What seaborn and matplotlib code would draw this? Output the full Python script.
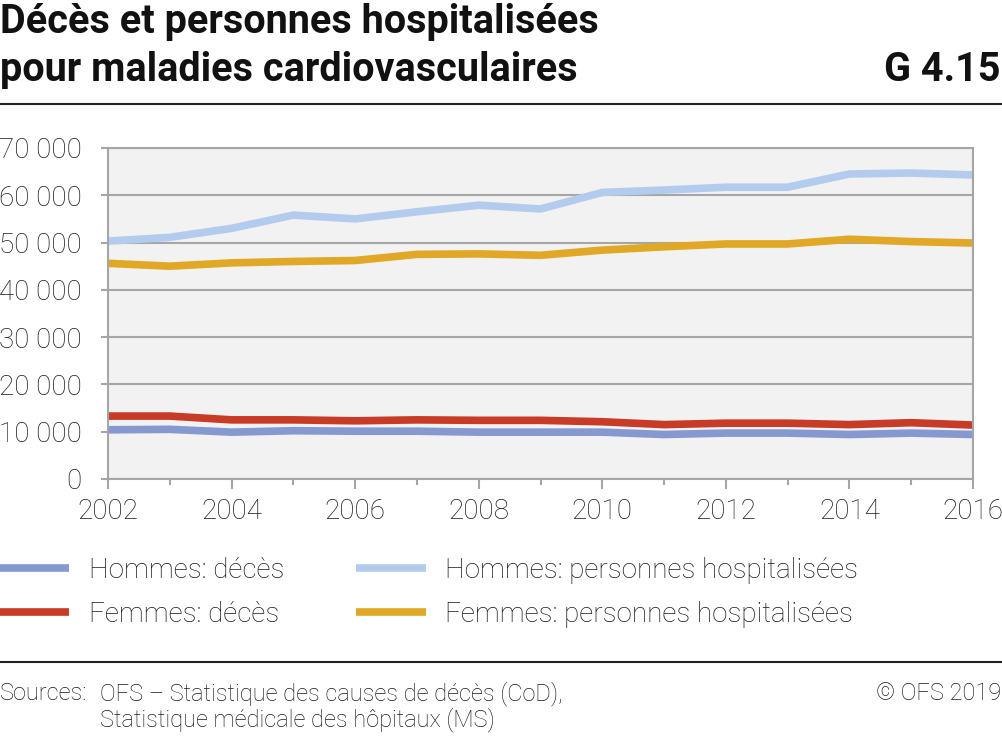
import matplotlib
matplotlib.use("Agg")
import matplotlib.pyplot as plt
import seaborn as sns
import pandas as pd
from matplotlib.ticker import FuncFormatter, MultipleLocator

annees = list(range(2002, 2017))
hommes_deces = [10400, 10500, 9900, 10200, 10100, 10100, 9900, 9900, 9900, 9400, 9700, 9700, 9400, 9700, 9400]
femmes_deces = [13300, 13300, 12500, 12500, 12300, 12500, 12400, 12400, 12100, 11500, 11800, 11800, 11500, 11900, 11400]
hommes_hosp = [50300, 51100, 53000, 55800, 55000, 56500, 57900, 57100, 60600, 61100, 61700, 61700, 64500, 64700, 64300]
femmes_hosp = [45600, 45000, 45700, 46000, 46200, 47500, 47600, 47300, 48400, 49100, 49700, 49700, 50700, 50200, 49900]

series = {
    "Hommes: décès": hommes_deces,
    "Femmes: décès": femmes_deces,
    "Hommes: personnes hospitalisées": hommes_hosp,
    "Femmes: personnes hospitalisées": femmes_hosp,
}
couleurs = {
    "Hommes: décès": "#8599d0",
    "Femmes: décès": "#c83b26",
    "Hommes: personnes hospitalisées": "#b3ccee",
    "Femmes: personnes hospitalisées": "#e0a826",
}

df = pd.DataFrame(
    [(a, nom, v) for nom, vals in series.items() for a, v in zip(annees, vals)],
    columns=["annee", "serie", "valeur"],
)

sns.set_style("white")
plt.rcParams["font.family"] = ["Roboto", "DejaVu Sans"]
plt.rcParams["lines.solid_capstyle"] = "butt"

fig = plt.figure(figsize=(10.03, 7.38), dpi=100)
ax = fig.add_axes([0.1077, 0.351, 0.8624, 0.4485])
ax.set_facecolor("#f2f2f2")

sns.lineplot(data=df, x="annee", y="valeur", hue="serie", palette=couleurs,
             hue_order=list(series.keys()), linewidth=5.5, ax=ax, legend=True)

gris = "#a6a6a6"
texte = "#1a1a1a"
ax.set_xlim(2002, 2016)
ax.set_ylim(0, 70000)
ax.xaxis.set_major_locator(MultipleLocator(2))
ax.xaxis.set_minor_locator(MultipleLocator(1))
ax.yaxis.set_major_locator(MultipleLocator(10000))
ax.yaxis.set_major_formatter(FuncFormatter(lambda v, p: f"{int(v):,}".replace(",", " ")))
ax.grid(axis="y", color=gris, linewidth=1.5)
ax.set_axisbelow(True)
for s in ax.spines.values():
    s.set_color(gris)
    s.set_linewidth(1.5)
ax.tick_params(axis="x", which="major", length=7, width=1.5, color=gris, pad=7,
               labelsize=20, labelcolor=texte, bottom=True)
ax.tick_params(axis="x", which="minor", length=4, width=1.5, color=gris, bottom=True)
ax.tick_params(axis="y", length=5, width=1.5, color=gris, pad=14,
               labelsize=20, labelcolor=texte, left=True)
for lab in ax.get_xticklabels() + ax.get_yticklabels():
    lab.set_fontweight("light")
ax.set_xlabel("")
ax.set_ylabel("")

handles, labels = ax.get_legend_handles_labels()
ax.get_legend().remove()
leg = fig.legend(handles, labels, loc="upper left", ncol=2, frameon=False, fontsize=20,
                 handlelength=2.5, handletextpad=0.7, columnspacing=2.6, labelspacing=0.6,
                 borderaxespad=0, borderpad=0)
leg.set_bbox_to_anchor((0.0, 0.245), transform=fig.transFigure)
for t in leg.get_texts():
    t.set_color(texte)
    t.set_fontweight("light")

fig.text(0.0, 0.955, "Décès et personnes hospitalisées", fontsize=28.5, fontweight="bold",
         va="baseline", color="#111111")
fig.text(0.0, 0.890, "pour maladies cardiovasculaires", fontsize=28.5, fontweight="bold",
         va="baseline", color="#111111")
fig.text(0.998, 0.890, "G 4.15", fontsize=28.5, fontweight="bold", va="baseline",
         ha="right", color="#111111")

fig.add_artist(plt.Line2D([0, 1], [0.859, 0.859], color="#222222", linewidth=1.5,
                          transform=fig.transFigure))
fig.add_artist(plt.Line2D([0, 1], [0.103, 0.103], color="#222222", linewidth=1.5,
                          transform=fig.transFigure))

fig.text(0.0, 0.051, "Sources:", fontsize=17, fontweight="light", va="baseline", color=texte)
fig.text(0.1, 0.051, "OFS – Statistique des causes de décès (CoD),", fontsize=17,
         fontweight="light", va="baseline", color=texte)
fig.text(0.1, 0.016, "Statistique médicale des hôpitaux (MS)", fontsize=17,
         fontweight="light", va="baseline", color=texte)
fig.text(0.998, 0.051, "© OFS 2019", fontsize=17, fontweight="light", va="baseline",
         ha="right", color=texte)

fig.savefig("out.png", dpi=100)
